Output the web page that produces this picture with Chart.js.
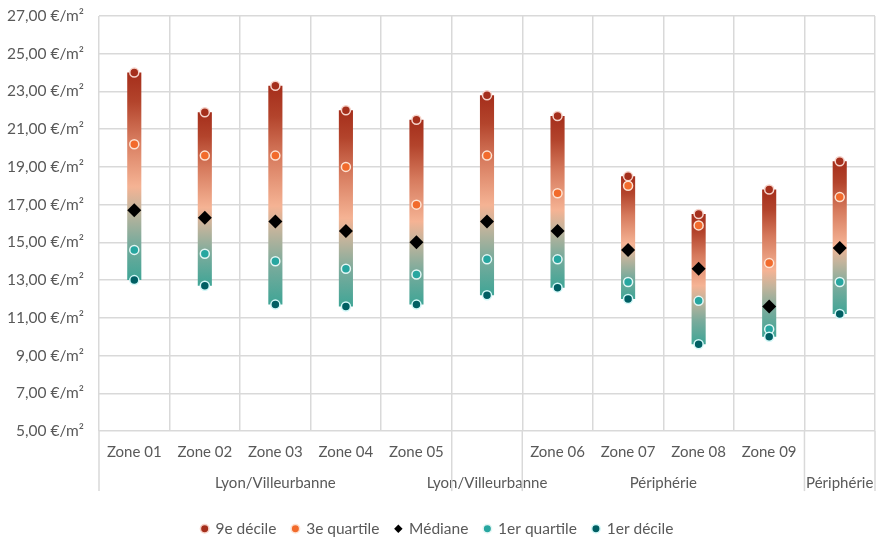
<!DOCTYPE html>
<html lang="fr">
<head>
<meta charset="utf-8">
<script src="https://cdn.jsdelivr.net/npm/chart.js@4.4.1/dist/chart.umd.min.js"></script>
<style>
  html, body { margin: 0; padding: 0; background: #fff; }
  #wrap { width: 893px; height: 537px; }
</style>
</head>
<body>
<div id="wrap"><canvas id="myChart"></canvas></div>
<script>
// categories : zones + standalone aggregate columns
const zones = ['Zone 01', 'Zone 02', 'Zone 03', 'Zone 04', 'Zone 05', '', 'Zone 06', 'Zone 07', 'Zone 08', 'Zone 09', ''];
const subLabels = ['', '', '', '', '', 'Lyon/Villeurbanne', '', '', '', '', 'Périphérie'];
// group labels spanning several zones
const groupNames = ['Lyon/Villeurbanne', 'Périphérie'];
const groupStart = [0, 6];
const groupEnd = [4, 9];

// values in €/m²
const decile9 = [24.0, 21.9, 23.3, 22.0, 21.5, 22.8, 21.7, 18.5, 16.5, 17.8, 19.3];
const quartile3 = [20.2, 19.6, 19.6, 19.0, 17.0, 19.6, 17.6, 18.0, 15.9, 13.9, 17.4];
const median = [16.7, 16.3, 16.1, 15.6, 15.0, 16.1, 15.6, 14.6, 13.6, 11.6, 14.7];
const quartile1 = [14.6, 14.4, 14.0, 13.6, 13.3, 14.1, 14.1, 12.9, 11.9, 10.4, 12.9];
const decile1 = [13.0, 12.7, 11.7, 11.6, 11.7, 12.2, 12.6, 12.0, 9.6, 10.0, 11.2];

const yMin = 5, yMax = 27, yStep = 2;

const textColor = '#595959';
const gridColor = '#d9d9d9';
const fontFamily = 'Lato, "Open Sans", sans-serif';
const legendShift = 9.5;

// gradient of each bar, bottom (teal) to top (dark red)
const gradientStops = [
  [0, '#3fa596'],
  [0.18, '#7aab9c'],
  [0.34, '#c3b49c'],
  [0.45, '#f5b394'],
  [0.68, '#d67a5d'],
  [0.86, '#b3442c'],
  [1, '#a52e1b']
];

function barGradient(context) {
  const chart = context.chart;
  if (context.type !== 'data' || !chart.chartArea) return '#d67a5d';
  const i = context.dataIndex;
  const y = chart.scales.y;
  const g = chart.ctx.createLinearGradient(0, y.getPixelForValue(decile1[i]), 0, y.getPixelForValue(decile9[i]));
  gradientStops.forEach(s => g.addColorStop(s[0], s[1]));
  return g;
}

// extra vertical separators below axis + group labels
const groupPlugin = {
  id: 'groupLabels',
  afterLayout(chart) {
    // legend sits a bit lower than the layout would put it
    if (chart.legend) chart.legend.top += legendShift;
  },
  afterDraw(chart) {
    const x = chart.scales.x;
    const ctx = chart.ctx;
    const half = (x.getPixelForValue(1) - x.getPixelForValue(0)) / 2;
    const font = Chart.helpers.toFont(x.options.ticks.font);
    const pad = x.options.ticks.padding;
    const edges = new Set([0, zones.length]);
    groupStart.forEach((s, k) => { edges.add(s); edges.add(groupEnd[k] + 1); });
    subLabels.forEach((l, i) => { if (l) { edges.add(i); edges.add(i + 1); } });

    ctx.save();
    ctx.strokeStyle = gridColor;
    ctx.lineWidth = 1.5;
    edges.forEach(i => {
      const px = x.getPixelForValue(i) - half;
      ctx.beginPath();
      ctx.moveTo(px, x.top);
      ctx.lineTo(px, x.top + font.lineHeight * 2 - 2);
      ctx.stroke();
    });
    ctx.fillStyle = textColor;
    ctx.font = font.string;
    ctx.textAlign = 'center';
    ctx.textBaseline = 'middle';
    groupNames.forEach((name, k) => {
      const cx = (x.getPixelForValue(groupStart[k]) + x.getPixelForValue(groupEnd[k])) / 2;
      ctx.fillText(name, cx, x.top + pad + font.lineHeight * 1.5);
    });
    ctx.restore();
  }
};

function pointSet(label, data, color, border, style, radius, order) {
  return {
    type: 'line',
    label: label,
    data: data,
    showLine: false,
    order: order,
    pointStyle: style,
    pointRadius: radius,
    pointHoverRadius: radius,
    pointBackgroundColor: color,
    pointBorderColor: border,
    pointBorderWidth: style === 'circle' ? 1.5 : 0,
    backgroundColor: color,
    borderColor: border
  };
}

document.addEventListener('DOMContentLoaded', function () {
  const labels = zones.map((z, i) => [z, subLabels[i]]);
  const ranges = decile1.map((d, i) => [d, decile9[i]]);

  const dataConfig = {
    type: 'bar',
    data: {
      labels: labels,
      datasets: [
        pointSet('9e décile', decile9, '#a52f1c', '#f6d3ca', 'circle', 4.5, 5),
        pointSet('3e quartile', quartile3, '#f26b2c', '#fde2d2', 'circle', 4.5, 4),
        pointSet('Médiane', median, '#000000', '#000000', 'rectRot', 7, 3),
        pointSet('1er quartile', quartile1, '#27a6a0', '#e3f6f4', 'circle', 4.5, 2),
        pointSet('1er décile', decile1, '#005f63', '#d3f8f8', 'circle', 4.5, 1),
        {
          type: 'bar',
          label: 'range',
          data: ranges,
          order: 6,
          backgroundColor: barGradient,
          borderWidth: 0,
          barPercentage: 0.2,
          categoryPercentage: 1
        }
      ]
    },
    options: {
      responsive: true,
      maintainAspectRatio: false,
      animation: false,
      layout: { padding: { top: 16, right: 18, left: 0, bottom: 0 } },
      plugins: {
        tooltip: { enabled: false },
        legend: {
          position: 'bottom',
          labels: {
            usePointStyle: true,
            boxWidth: 6,
            boxHeight: 6,
            padding: 16,
            color: textColor,
            font: { family: fontFamily, size: 15.5 },
            filter: item => item.text !== 'range',
            sort: (a, b) => a.datasetIndex - b.datasetIndex
          }
        }
      },
      scales: {
        x: {
          grid: { color: gridColor, lineWidth: 1.5, offset: true, drawTicks: false },
          border: { display: false },
          ticks: {
            autoSkip: false,
            maxRotation: 0,
            padding: 5.5,
            color: textColor,
            font: { family: fontFamily, size: 15, lineHeight: 2.07 }
          },
          afterFit: scale => { scale.height -= 8.6; }
        },
        y: {
          min: yMin,
          max: yMax,
          grid: { color: gridColor, lineWidth: 1.5, drawTicks: false },
          border: { display: false },
          ticks: {
            stepSize: yStep,
            padding: 15,
            color: textColor,
            font: { family: fontFamily, size: 15.5 },
            callback: v => v.toFixed(2).replace('.', ',') + ' €/m²'
          },
          afterFit: scale => {
            scale.width = 99;
            scale.paddingTop = 8;
          }
        }
      }
    },
    plugins: [groupPlugin]
  };

  new Chart(document.getElementById('myChart'), dataConfig);
});
</script>
</body>
</html>
